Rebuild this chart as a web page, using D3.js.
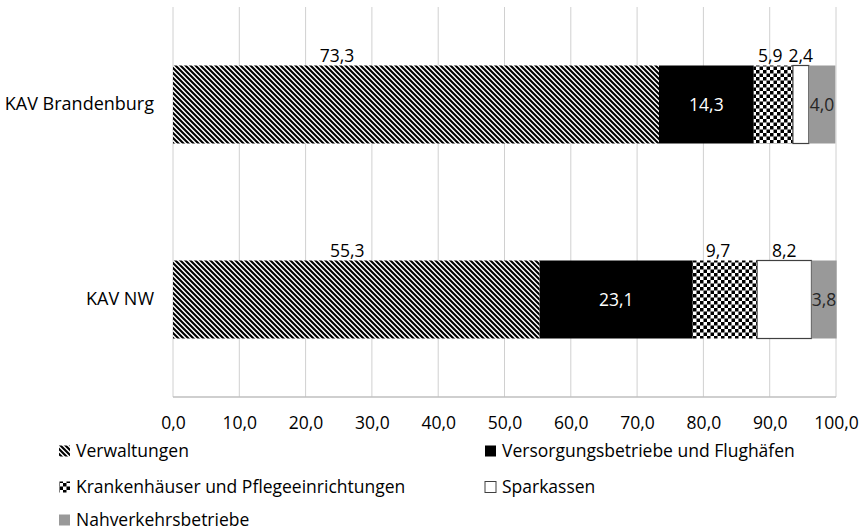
<!DOCTYPE html>
<html>
<head>
<meta charset="utf-8">
<script src="https://cdn.jsdelivr.net/npm/d3@7"></script>
<style>
  body { margin: 0; background: #fff; }
  svg { font-family: "Open Sans", sans-serif; }
</style>
</head>
<body>
<div id="chart"></div>
<script>
// data
const categories = ["KAV Brandenburg", "KAV NW"];
const seriesNames = [
  "Verwaltungen",
  "Versorgungsbetriebe und Flughäfen",
  "Krankenhäuser und Pflegeeinrichtungen",
  "Sparkassen",
  "Nahverkehrsbetriebe"
];
const verwaltungen = [73.3, 55.3];
const versorgung = [14.3, 23.1];
const krankenhaeuser = [5.9, 9.7];
const sparkassen = [2.4, 8.2];
const nahverkehr = [4.0, 3.8];
const xTicks = [0, 10, 20, 30, 40, 50, 60, 70, 80, 90, 100];

const seriesValues = [verwaltungen, versorgung, krankenhaeuser, sparkassen, nahverkehr];

// one row per category for d3.stack
const table = categories.map((c, i) => {
  const row = {category: c};
  seriesNames.forEach((s, j) => row[s] = seriesValues[j][i]);
  return row;
});

// set the dimensions and margins of the graph
const width = 862, height = 531;
const plot = {left: 173, right: 836, top: 7, bottom: 397};

const svg = d3.select("#chart")
  .append("svg")
    .attr("width", width)
    .attr("height", height);

// fill patterns
const defs = svg.append("defs");
const hatch = defs.append("pattern")
    .attr("id", "hatch")
    .attr("patternUnits", "userSpaceOnUse")
    .attr("width", 5)
    .attr("height", 5);
hatch.append("rect").attr("width", 5).attr("height", 5).attr("fill", "#fff");
hatch.append("path")
    .attr("d", "M0,0L5,5M-1,4L1,6M4,-1L6,1")
    .attr("stroke", "#000")
    .attr("stroke-width", 2.1);

const checker = defs.append("pattern")
    .attr("id", "checker")
    .attr("patternUnits", "userSpaceOnUse")
    .attr("width", 7)
    .attr("height", 7);
checker.append("rect").attr("width", 7).attr("height", 7).attr("fill", "#fff");
checker.append("rect").attr("width", 3.5).attr("height", 3.5).attr("fill", "#000");
checker.append("rect").attr("x", 3.5).attr("y", 3.5).attr("width", 3.5).attr("height", 3.5).attr("fill", "#000");

const fills = ["url(#hatch)", "#000", "url(#checker)", "#fff", "#999999"];
const strokes = ["none", "none", "none", "#404040", "none"];
// where each series puts its value label
const labelMode = ["above", "inside", "above", "above", "inside"];
const labelColor = ["#000", "#fff", "#000", "#000", "#262626"];
// manual label shifts as in the original (px)
const labelNudge = {"KAV Brandenburg|0": -79, "KAV NW|0": -9, "KAV NW|2": -7, "KAV Brandenburg|2": -3};

// scales
const x = d3.scaleLinear()
    .domain([0, 100])
    .range([plot.left, plot.right]);

const y = d3.scaleBand()
    .domain(categories)
    .range([plot.top, plot.bottom])
    .paddingInner(0.6)
    .paddingOuter(0.3);

// vertical gridlines
svg.append("g")
  .selectAll("line")
  .data(xTicks)
  .join("line")
    .attr("x1", d => x(d))
    .attr("x2", d => x(d))
    .attr("y1", plot.top)
    .attr("y2", plot.bottom)
    .attr("stroke", "#d0d0d0")
    .attr("stroke-width", 1);

// bottom axis line
svg.append("line")
    .attr("x1", x(0))
    .attr("x2", x(100))
    .attr("y1", plot.bottom)
    .attr("y2", plot.bottom)
    .attr("stroke", "#bfbfbf")
    .attr("stroke-width", 1.3);

const fmt = d3.formatLocale({decimal: ",", thousands: ".", grouping: [3], currency: ["", "€"]}).format(".1f");

// X axis tick labels
const xAxis = svg.append("g")
    .attr("transform", `translate(0, ${plot.bottom})`)
    .call(d3.axisBottom(x).tickValues(xTicks).tickFormat(fmt).tickSize(0).tickPadding(20));
xAxis.select(".domain").remove();
xAxis.selectAll("text")
    .attr("font-family", "Open Sans")
    .attr("font-size", 17.5)
    .attr("fill", "#000");

// Y axis category labels
const yAxis = svg.append("g")
    .attr("transform", `translate(${plot.left}, 0)`)
    .call(d3.axisLeft(y).tickSize(0).tickPadding(19));
yAxis.select(".domain").remove();
yAxis.selectAll("text")
    .attr("font-family", "Open Sans")
    .attr("font-size", 18)
    .attr("fill", "#000");

// stacked bars
const stacked = d3.stack().keys(seriesNames)(table);

const layers = svg.append("g")
  .selectAll("g")
  .data(stacked)
  .join("g");

layers.selectAll("rect")
  .data(d => d.map(p => ({p: p, key: d.key, idx: d.index})))
  .join("rect")
    .attr("x", d => x(d.p[0]))
    .attr("y", d => y(d.p.data.category))
    .attr("width", d => x(d.p[1]) - x(d.p[0]))
    .attr("height", y.bandwidth())
    .attr("fill", d => fills[d.idx])
    .attr("stroke", d => strokes[d.idx])
    .attr("stroke-width", 1.2);

// value labels
layers.selectAll("text")
  .data(d => d.map(p => ({p: p, key: d.key, idx: d.index})))
  .join("text")
    .attr("text-anchor", "middle")
    .attr("font-size", 17.5)
    .attr("fill", d => labelColor[d.idx])
    .attr("x", d => (x(d.p[0]) + x(d.p[1])) / 2 + (labelNudge[d.p.data.category + "|" + d.idx] || 0))
    .attr("y", d => labelMode[d.idx] === "above"
        ? y(d.p.data.category) - 4
        : y(d.p.data.category) + y.bandwidth() / 2 + 6)
    .text(d => fmt(d.p[1] - d.p[0]));

// legend
const legendPos = [
  {sx: 59, tx: 76, cy: 451},
  {sx: 485, tx: 502, cy: 451},
  {sx: 59, tx: 76, cy: 487},
  {sx: 485, tx: 502, cy: 487},
  {sx: 59, tx: 76, cy: 520}
];

const legend = svg.append("g")
  .selectAll("g")
  .data(seriesNames)
  .join("g");

legend.append("rect")
    .attr("x", (d, i) => legendPos[i].sx)
    .attr("y", (d, i) => legendPos[i].cy - 5.5)
    .attr("width", 11)
    .attr("height", 11)
    .attr("fill", (d, i) => fills[i])
    .attr("stroke", (d, i) => strokes[i])
    .attr("stroke-width", 1);

legend.append("text")
    .attr("x", (d, i) => legendPos[i].tx)
    .attr("y", (d, i) => legendPos[i].cy + 6)
    .attr("font-size", 17.5)
    .attr("fill", "#000")
    .text(d => d);
</script>
</body>
</html>
